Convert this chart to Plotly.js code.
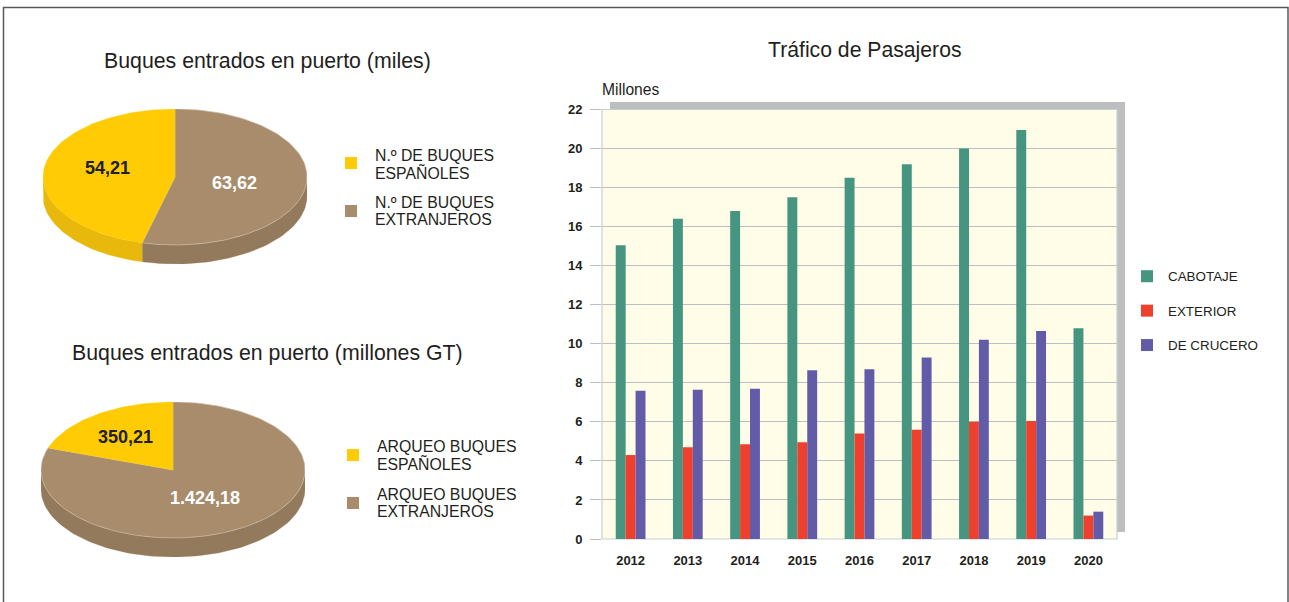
<!DOCTYPE html>
<html><head><meta charset="utf-8">
<script src="https://cdn.plot.ly/plotly-3.0.1.min.js"></script>
<style>html,body{margin:0;padding:0;background:#fff;overflow:hidden}</style>
</head><body><div id="chart" style="width:1289px;height:602px"></div>
<script>
const years = ['2012','2013','2014','2015','2016','2017','2018','2019','2020'];
const cabotaje = [15.05,16.4,16.8,17.5,18.5,19.2,20,20.95,10.8];
const exterior = [4.3,4.7,4.85,4.95,5.4,5.6,6,6.05,1.2];
const crucero  = [7.6,7.65,7.7,8.65,8.7,9.3,10.2,10.65,1.4];
const barNames = ['CABOTAJE','EXTERIOR','DE CRUCERO'];
const buquesMiles = [54.21,63.62];
const buquesGT = [350.21,1424.18];
const labelsMiles = ['54,21','63,62'];
const labelsGT = ['350,21','1.424,18'];
const legendMiles = ['N.º DE BUQUES|ESPAÑOLES','N.º DE BUQUES|EXTRANJEROS'];
const legendGT = ['ARQUEO BUQUES|ESPAÑOLES','ARQUEO BUQUES|EXTRANJEROS'];

const W=1289,H=602, FONT='"Liberation Sans", Arial, sans-serif', DARK='#231f20';
const YEL='#ffcb05', BRN='#a98c6c', YEL2='#e8b90c', BRN2='#937a5c';
const px=v=>v/W, py=v=>1-v/H;
const DEPTH=0.28;
function arc(a0,a1,dy){
  const p=[],n=Math.max(2,Math.ceil(Math.abs(a1-a0)/2));
  for(let i=0;i<=n;i++){const a=(a0+(a1-a0)*i/n)*Math.PI/180;p.push([Math.sin(a),Math.cos(a)-dy]);}
  return p;
}
function pieTraces(vals,ax){
  const total=vals[0]+vals[1], split=360-360*vals[0]/total;
  const t=[], xa='x'+ax, ya='y'+ax;
  const push=(pts,col,line)=>t.push({type:'scatter',mode:'lines',x:pts.map(p=>p[0]),y:pts.map(p=>p[1]),
    xaxis:xa,yaxis:ya,fill:'toself',fillcolor:col,line:{color:line||col,width:line?0.7:0.3},showlegend:false,hoverinfo:'skip'});
  const wall=(a0,a1,col)=>{const s=Math.max(a0,90),e=Math.min(a1,270); if(e<=s)return;
    push(arc(s,e,0).concat(arc(e,s,DEPTH)),col);};
  wall(0,split,BRN2); wall(split,360,YEL2);
  push([[0,0]].concat(arc(0,split,0),[[0,0]]),BRN,'#c9b8a2');
  push([[0,0]].concat(arc(split,360,0),[[0,0]]),YEL);
  return t;
}
const bar=(name,y,col)=>({type:'bar',name,x:years,y,marker:{color:col,line:{width:0}},legendgroup:name,hoverinfo:'x+y'});
const traces=[bar(barNames[0],cabotaje,'#459580'),bar(barNames[1],exterior,'#ef402d'),bar(barNames[2],crucero,'#625ca8')]
  .concat(pieTraces(buquesMiles,2),pieTraces(buquesGT,3));

const hidden={visible:false,fixedrange:true};
const txt=(x,y,text,size,opt={})=>Object.assign({xref:'paper',yref:'paper',x:px(x),y:py(y),text,showarrow:false,
  xanchor:'center',yanchor:'middle',align:'center',font:{family:FONT,size,color:DARK}},opt);
const boldF=c=>({font:{family:FONT,size:18,color:c,weight:700}});
const legendLines=(s,x,y)=>s.split('|').map((l,i)=>txt(x,y+i*17.6,l,15.8,{xanchor:'left',align:'left'}));
const annotations=[
  txt(267.5,61,'Buques entrados en puerto (miles)',21.3),
  txt(267.5,353,'Buques entrados en puerto (millones GT)',21.3),
  txt(865,50,'Tráfico de Pasajeros',21.2),
  txt(600,89,'Millones',15.6,{xanchor:'left'}),
  txt(107,168,labelsMiles[0],18,boldF(DARK)),
  txt(234,183,labelsMiles[1],18,boldF('#fff')),
  txt(125,437,labelsGT[0],18,boldF(DARK)),
  txt(205,498,labelsGT[1],18,boldF('#fff'))
].concat(
  legendLines(legendMiles[0],373,155),legendLines(legendMiles[1],373,202),
  legendLines(legendGT[0],375,446),legendLines(legendGT[1],375,494)
);
const sq=(x,y,col)=>({type:'rect',xref:'paper',yref:'paper',x0:px(x),x1:px(x+12),y0:py(y-6),y1:py(y+6),fillcolor:col,line:{width:0}});
const shapes=[
  {type:'rect',xref:'paper',yref:'paper',x0:px(3.5),x1:px(1288),y0:py(7.5),y1:py(640),fillcolor:'rgba(0,0,0,0)',line:{color:'#58595b',width:1.5},layer:'below'},
  {type:'rect',xref:'paper',yref:'paper',x0:px(610),x1:px(1125),y0:py(102),y1:py(532),fillcolor:'#bcbec0',line:{width:0},layer:'below'},
  {type:'rect',xref:'paper',yref:'paper',x0:px(602),x1:px(1117),y0:py(109.5),y1:py(539),fillcolor:'#fffde8',line:{color:'#c5d0d6',width:1.2},layer:'below'},
  sq(345,163,YEL),sq(345,211,BRN),sq(347,455,YEL),sq(347,503,BRN)
];
const tickF={family:FONT,size:13,weight:700,color:DARK};
const layout={
  width:W,height:H,margin:{l:0,r:0,t:0,b:0},paper_bgcolor:'#fff',plot_bgcolor:'rgba(0,0,0,0)',
  font:{family:FONT,color:DARK},barmode:'group',bargap:0.48,bargroupgap:0,showlegend:true,
  xaxis:{domain:[px(602),px(1117)],anchor:'y',type:'category',tickfont:tickF,
    showline:false,showgrid:false,ticks:'',ticklabelstandoff:12,fixedrange:true},
  yaxis:{domain:[py(539),py(109.5)],anchor:'x',range:[0,22],tickvals:[0,2,4,6,8,10,12,14,16,18,20,22],
    tickfont:tickF,ticklabelstandoff:5,
    gridcolor:'#bcc0c4',gridwidth:1,zeroline:false,showline:false,ticks:'outside',ticklen:11,tickcolor:'#bcc0c4',tickwidth:1,fixedrange:true},
  xaxis2:Object.assign({domain:[px(43),px(307)],anchor:'y2',range:[-1,1]},hidden),
  yaxis2:Object.assign({domain:[py(264),py(109)],anchor:'x2',range:[-1-DEPTH,1]},hidden),
  xaxis3:Object.assign({domain:[px(41),px(305)],anchor:'y3',range:[-1,1]},hidden),
  yaxis3:Object.assign({domain:[py(557),py(402)],anchor:'x3',range:[-1-DEPTH,1]},hidden),
  legend:{x:px(1126),y:py(261),xanchor:'left',yanchor:'top',itemwidth:32,font:{family:FONT,size:13.4,color:DARK},tracegroupgap:14,bgcolor:'rgba(0,0,0,0)',borderwidth:0},
  annotations,shapes
};
Plotly.newPlot('chart',traces,layout,{staticPlot:true,displayModeBar:false});
</script></body></html>
